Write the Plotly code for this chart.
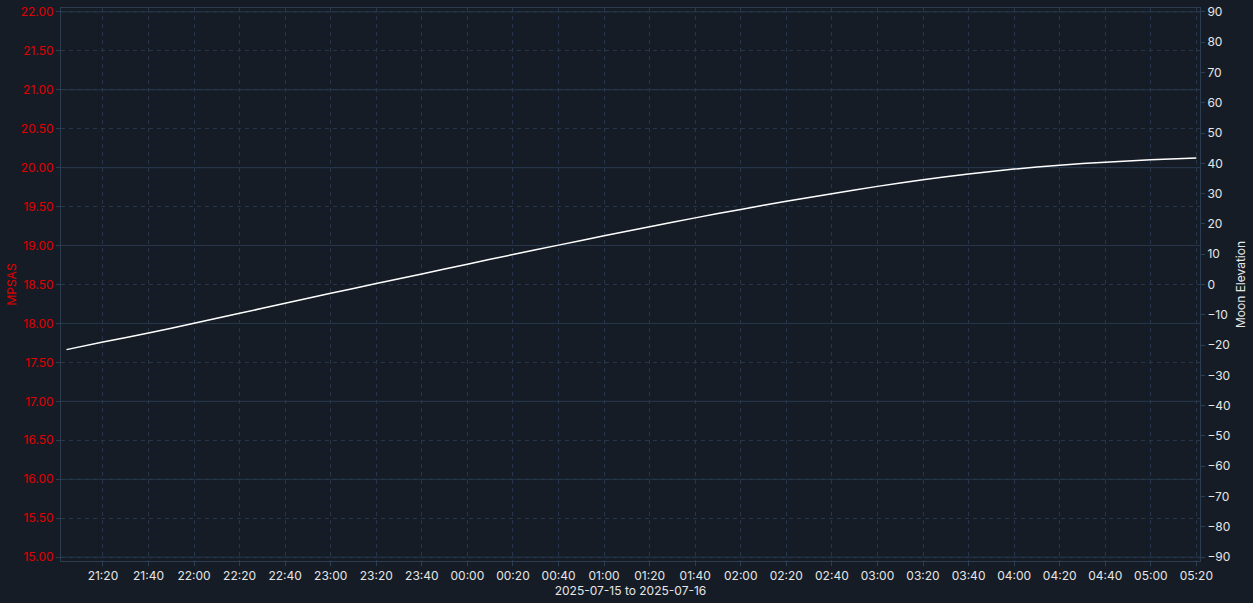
import plotly.graph_objects as go

# ---- data ----
times = [
    "2025-07-15 21:04", "2025-07-15 21:20", "2025-07-15 21:40", "2025-07-15 22:00",
    "2025-07-15 22:20", "2025-07-15 22:40", "2025-07-15 23:00", "2025-07-15 23:20",
    "2025-07-15 23:40", "2025-07-16 00:00", "2025-07-16 00:20", "2025-07-16 00:40",
    "2025-07-16 01:00", "2025-07-16 01:20", "2025-07-16 01:40", "2025-07-16 02:00",
    "2025-07-16 02:20", "2025-07-16 02:40", "2025-07-16 03:00", "2025-07-16 03:20",
    "2025-07-16 03:40", "2025-07-16 04:00", "2025-07-16 04:20", "2025-07-16 04:40",
    "2025-07-16 05:00", "2025-07-16 05:20",
]
moon_elevation = [
    -21.5, -19.0, -16.0, -12.8, -9.5, -6.2, -2.9, 0.3, 3.5, 6.7, 9.9, 13.0,
    16.1, 19.1, 22.0, 24.8, 27.5, 30.0, 32.4, 34.6, 36.5, 38.1, 39.4, 40.4,
    41.2, 41.8,
]
x_range = ["2025-07-15 21:01:36", "2025-07-16 05:21:36"]
mpsas_range = [14.95, 22.05]
mpsas_major = [15, 16, 17, 18, 19, 20, 21, 22]
elev_range = [-91.3, 91.3]
x_title = "2025-07-15 to 2025-07-16"

BG = "#151c26"
GRID = "#26374b"
AXIS = "#2c3d52"
RED = "#e00000"
WHITE = "#e6e6e6"
FONT = "Inter, sans-serif"

fig = go.Figure()
# invisible anchor trace so the MPSAS (left) axis is drawn
fig.add_trace(go.Scatter(x=[None], y=[None], yaxis="y", mode="lines",
                         showlegend=False, hoverinfo="skip"))
fig.add_trace(go.Scatter(
    x=times, y=moon_elevation, yaxis="y2", mode="lines",
    line=dict(color="#ffffff", width=1.5, shape="spline", smoothing=0.8),
    showlegend=False, hoverinfo="skip",
))

# solid grid lines at whole MPSAS values
for v in mpsas_major:
    fig.add_shape(type="line", xref="paper", x0=0, x1=1, yref="y", y0=v, y1=v,
                  line=dict(color=GRID, width=1), layer="below")

fig.update_layout(
    width=1253, height=603,
    paper_bgcolor=BG, plot_bgcolor=BG,
    margin=dict(l=61, r=53, t=8, b=42),
    font=dict(family=FONT, size=12, color=WHITE),
    showlegend=False,
    xaxis=dict(
        type="date", range=x_range, dtick=20 * 60 * 1000, tickformat="%H:%M",
        showgrid=True, gridcolor=GRID, griddash="4px,4px", gridwidth=1,
        showline=True, linecolor=AXIS, linewidth=1, mirror=True,
        ticks="outside", ticklen=4, tickcolor=AXIS,
        tickfont=dict(color=WHITE, size=12),
        title=dict(text=x_title, font=dict(color=WHITE, size=12), standoff=4),
        zeroline=False, automargin=False,
    ),
    yaxis=dict(
        range=mpsas_range, dtick=0.5, tick0=15, tickformat=".2f",
        showgrid=True, gridcolor=GRID, griddash="4px,4px", gridwidth=1,
        showline=True, linecolor=AXIS, linewidth=1,
        ticks="outside", ticklen=4, tickcolor=AXIS,
        tickfont=dict(color=RED, size=12),
        title=dict(text="MPSAS", font=dict(color=RED, size=12), standoff=1),
        zeroline=False, automargin=False,
    ),
    yaxis2=dict(
        range=elev_range, dtick=10, tick0=0, overlaying="y", side="right",
        showgrid=False, showline=True, linecolor=AXIS, linewidth=1,
        ticks="outside", ticklen=4, tickcolor=AXIS,
        tickfont=dict(color=WHITE, size=12),
        title=dict(text="Moon Elevation", font=dict(color=WHITE, size=12), standoff=6),
        zeroline=False, automargin=False,
    ),
)

fig.write_html(
    "out.html",
    config={"displayModeBar": False, "staticPlot": True},
    post_script="document.documentElement.style.margin='0';"
                "document.body.style.margin='0';"
                "document.body.style.overflow='hidden';"
                "document.body.style.background='#151c26';",
)
